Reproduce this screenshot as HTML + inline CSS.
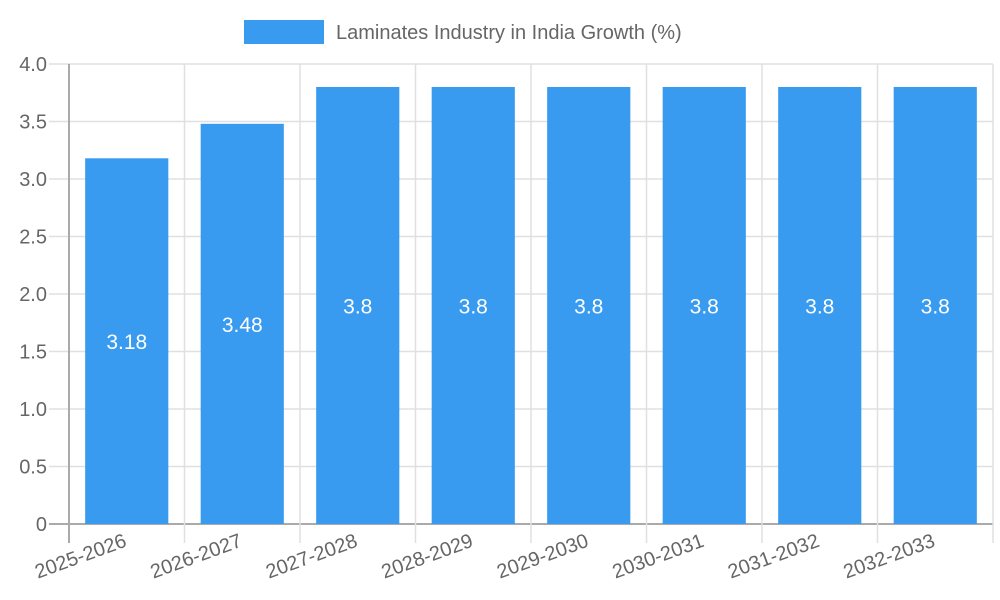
<!DOCTYPE html>
<html><head><meta charset="utf-8"><style>
html,body{margin:0;padding:0;background:#fff;width:1000px;height:600px;overflow:hidden}
svg text{font-family:"Liberation Sans",Arial,sans-serif}
</style></head><body>
<svg id="chart" width="1000" height="600" xmlns="http://www.w3.org/2000/svg">
<g>
<rect x="244" y="20" width="80" height="24" fill="#389bef"/>
<text x="336" y="39" font-size="20" fill="#666">Laminates Industry in India Growth (%)</text>
</g>
<g id="grid"></g><g id="bars"></g><g id="labels"></g>
</svg>
<script>
const categories=["2025-2026","2026-2027","2027-2028","2028-2029","2029-2030","2030-2031","2031-2032","2032-2033"];
const values=[3.18,3.48,3.8,3.8,3.8,3.8,3.8,3.8];
const yTicks=[0,0.5,1,1.5,2,2.5,3,3.5,4];
const yTickLabels=["0","0.5","1.0","1.5","2.0","2.5","3.0","3.5","4.0"];
const L=69,R=993,T=64,B=524,yMax=4;
const NS="http://www.w3.org/2000/svg";
const cw=(R-L)/categories.length;
const y=v=>B-(v/yMax)*(B-T);
const x=i=>L+i*cw;
function mk(tag,attrs,parent){const e=document.createElementNS(NS,tag);for(const k in attrs)e.setAttribute(k,attrs[k]);parent.appendChild(e);return e;}
const grid=document.getElementById('grid'),bars=document.getElementById('bars'),labels=document.getElementById('labels');
yTicks.forEach((t,i)=>{
  const ln=mk('line',{x1:49,x2:R,y1:y(t),y2:y(t),stroke:i===0?'#aaa':'#e0e0e0','stroke-width':(i===0?2:1.5)},grid);
  
  
  const tx=mk('text',{x:47,y:y(t)+7,'text-anchor':'end','font-size':20,fill:'#666'},labels);
  tx.textContent=yTickLabels[i];
  
  
});
for(let i=0;i<=categories.length;i++){
  const ln=mk('line',{x1:x(i),x2:x(i),y1:T,y2:B+19,stroke:i===0?'#aaa':'#e0e0e0','stroke-width':(i===0?2:1.5)},grid);
  
  
}
const bw=cw*0.72;
categories.forEach((c,i)=>{
  const cx=x(i)+cw/2;
  const r=mk('rect',{x:cx-bw/2,y:y(values[i]),width:bw,height:B-y(values[i]),fill:'#389bef'},bars);
  
  
  const v=mk('text',{x:cx,y:(y(values[i])+B)/2+8,'text-anchor':'middle','font-size':21,fill:'#fff'},labels);
  v.textContent=String(values[i]);
  
  
  const tl=mk('text',{x:0,y:0,'text-anchor':'end','font-size':20,fill:'#666',transform:`translate(${cx+1},${546}) rotate(-20)`},labels);
  tl.textContent=c;
  
  
});
</script>
</body></html>
